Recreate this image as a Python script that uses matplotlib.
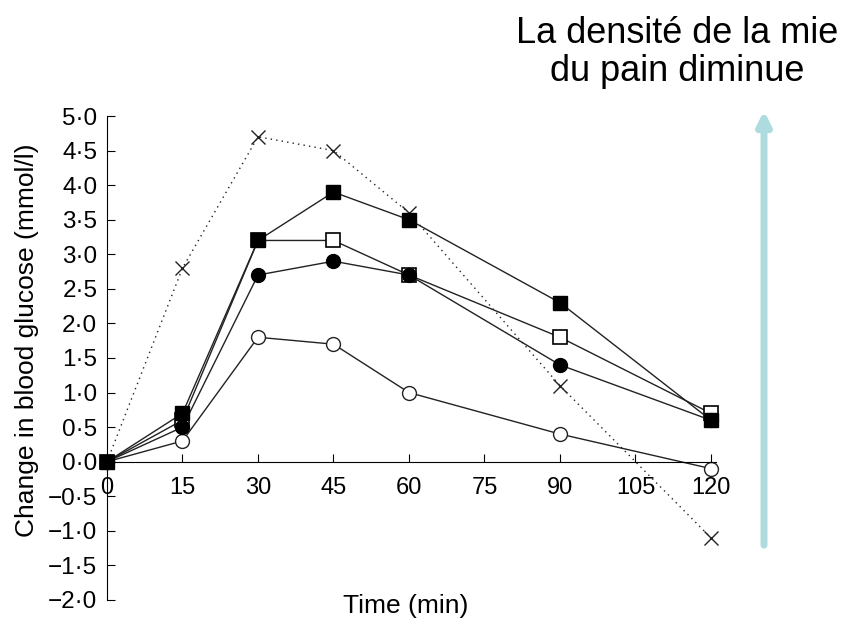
import matplotlib
matplotlib.use("Agg")
import matplotlib.pyplot as plt
from matplotlib.ticker import FuncFormatter

time_min = [0, 15, 30, 45, 60, 90, 120]
filled_sq = [0, 0.7, 3.2, 3.9, 3.5, 2.3, 0.6]
open_sq = [0, 0.6, 3.2, 3.2, 2.7, 1.8, 0.7]
filled_circ = [0, 0.5, 2.7, 2.9, 2.7, 1.4, 0.6]
open_circ = [0, 0.3, 1.8, 1.7, 1.0, 0.4, -0.1]
cross = [0, 2.8, 4.7, 4.5, 3.6, 1.1, -1.1]

x_ticks = [0, 15, 30, 45, 60, 75, 90, 105, 120]
y_ticks = [-2.0, -1.5, -1.0, -0.5, 0.0, 0.5, 1.0, 1.5, 2.0, 2.5, 3.0, 3.5, 4.0, 4.5, 5.0]

plt.rcParams["font.family"] = ["Liberation Sans", "DejaVu Sans"]

fig = plt.figure(figsize=(8.46, 6.2), dpi=100)
ax = fig.add_axes([107 / 846, 20 / 620, 609 / 846, 484 / 620])

line_kw = dict(color="#222222", lw=1.0, clip_on=False)
ax.plot(time_min, cross, ls=(0, (1, 3)), marker="x", ms=10, mew=1.0, mec="#222222", **line_kw)
ax.plot(time_min, open_circ, marker="o", ms=10, mfc="white", mec="#222222", mew=1.0, **line_kw)
ax.plot(time_min, open_sq, marker="s", ms=9.5, mfc="white", mec="black", mew=1.2, **line_kw)
ax.plot(time_min, filled_circ, marker="o", ms=10, mfc="black", mec="black", **line_kw)
ax.plot(time_min, filled_sq, marker="s", ms=10, mfc="black", mec="black", **line_kw)

ax.set_xlim(0, 121)
ax.set_ylim(-2.0, 5.0)
ax.spines["top"].set_visible(False)
ax.spines["right"].set_visible(False)
ax.spines["bottom"].set_position(("data", 0))
ax.spines["bottom"].set_bounds(0, 121)

ax.set_xticks(x_ticks)
ax.set_yticks(y_ticks)
ax.yaxis.set_major_formatter(FuncFormatter(lambda v, p: f"{v:.1f}".replace(".", "\u00b7").replace("-", "\u2212")))
ax.tick_params(axis="x", direction="in", length=5.5, labelsize=17, pad=11)
ax.tick_params(axis="y", direction="in", length=6, labelsize=17.5, pad=7)

ax.set_ylabel("Change in blood glucose (mmol/l)", fontsize=19)
ax.yaxis.set_label_coords(-0.112, 0.537)
ax.set_xlabel("Time (min)", fontsize=19)
ax.xaxis.set_label_coords(0.49, 0.012)

fig.text(0.80, 0.915, "La densité de la mie\ndu pain diminue", fontsize=26,
         ha="center", va="center", linespacing=1.1)

ax.annotate("", xy=(764 / 846, 1 - 108 / 620), xytext=(764 / 846, 1 - 548 / 620),
            xycoords="figure fraction", textcoords="figure fraction",
            arrowprops=dict(arrowstyle="-|>,head_length=0.8,head_width=0.4",
                            color="#aedbe0", lw=5))

fig.savefig("out.png", dpi=100)
